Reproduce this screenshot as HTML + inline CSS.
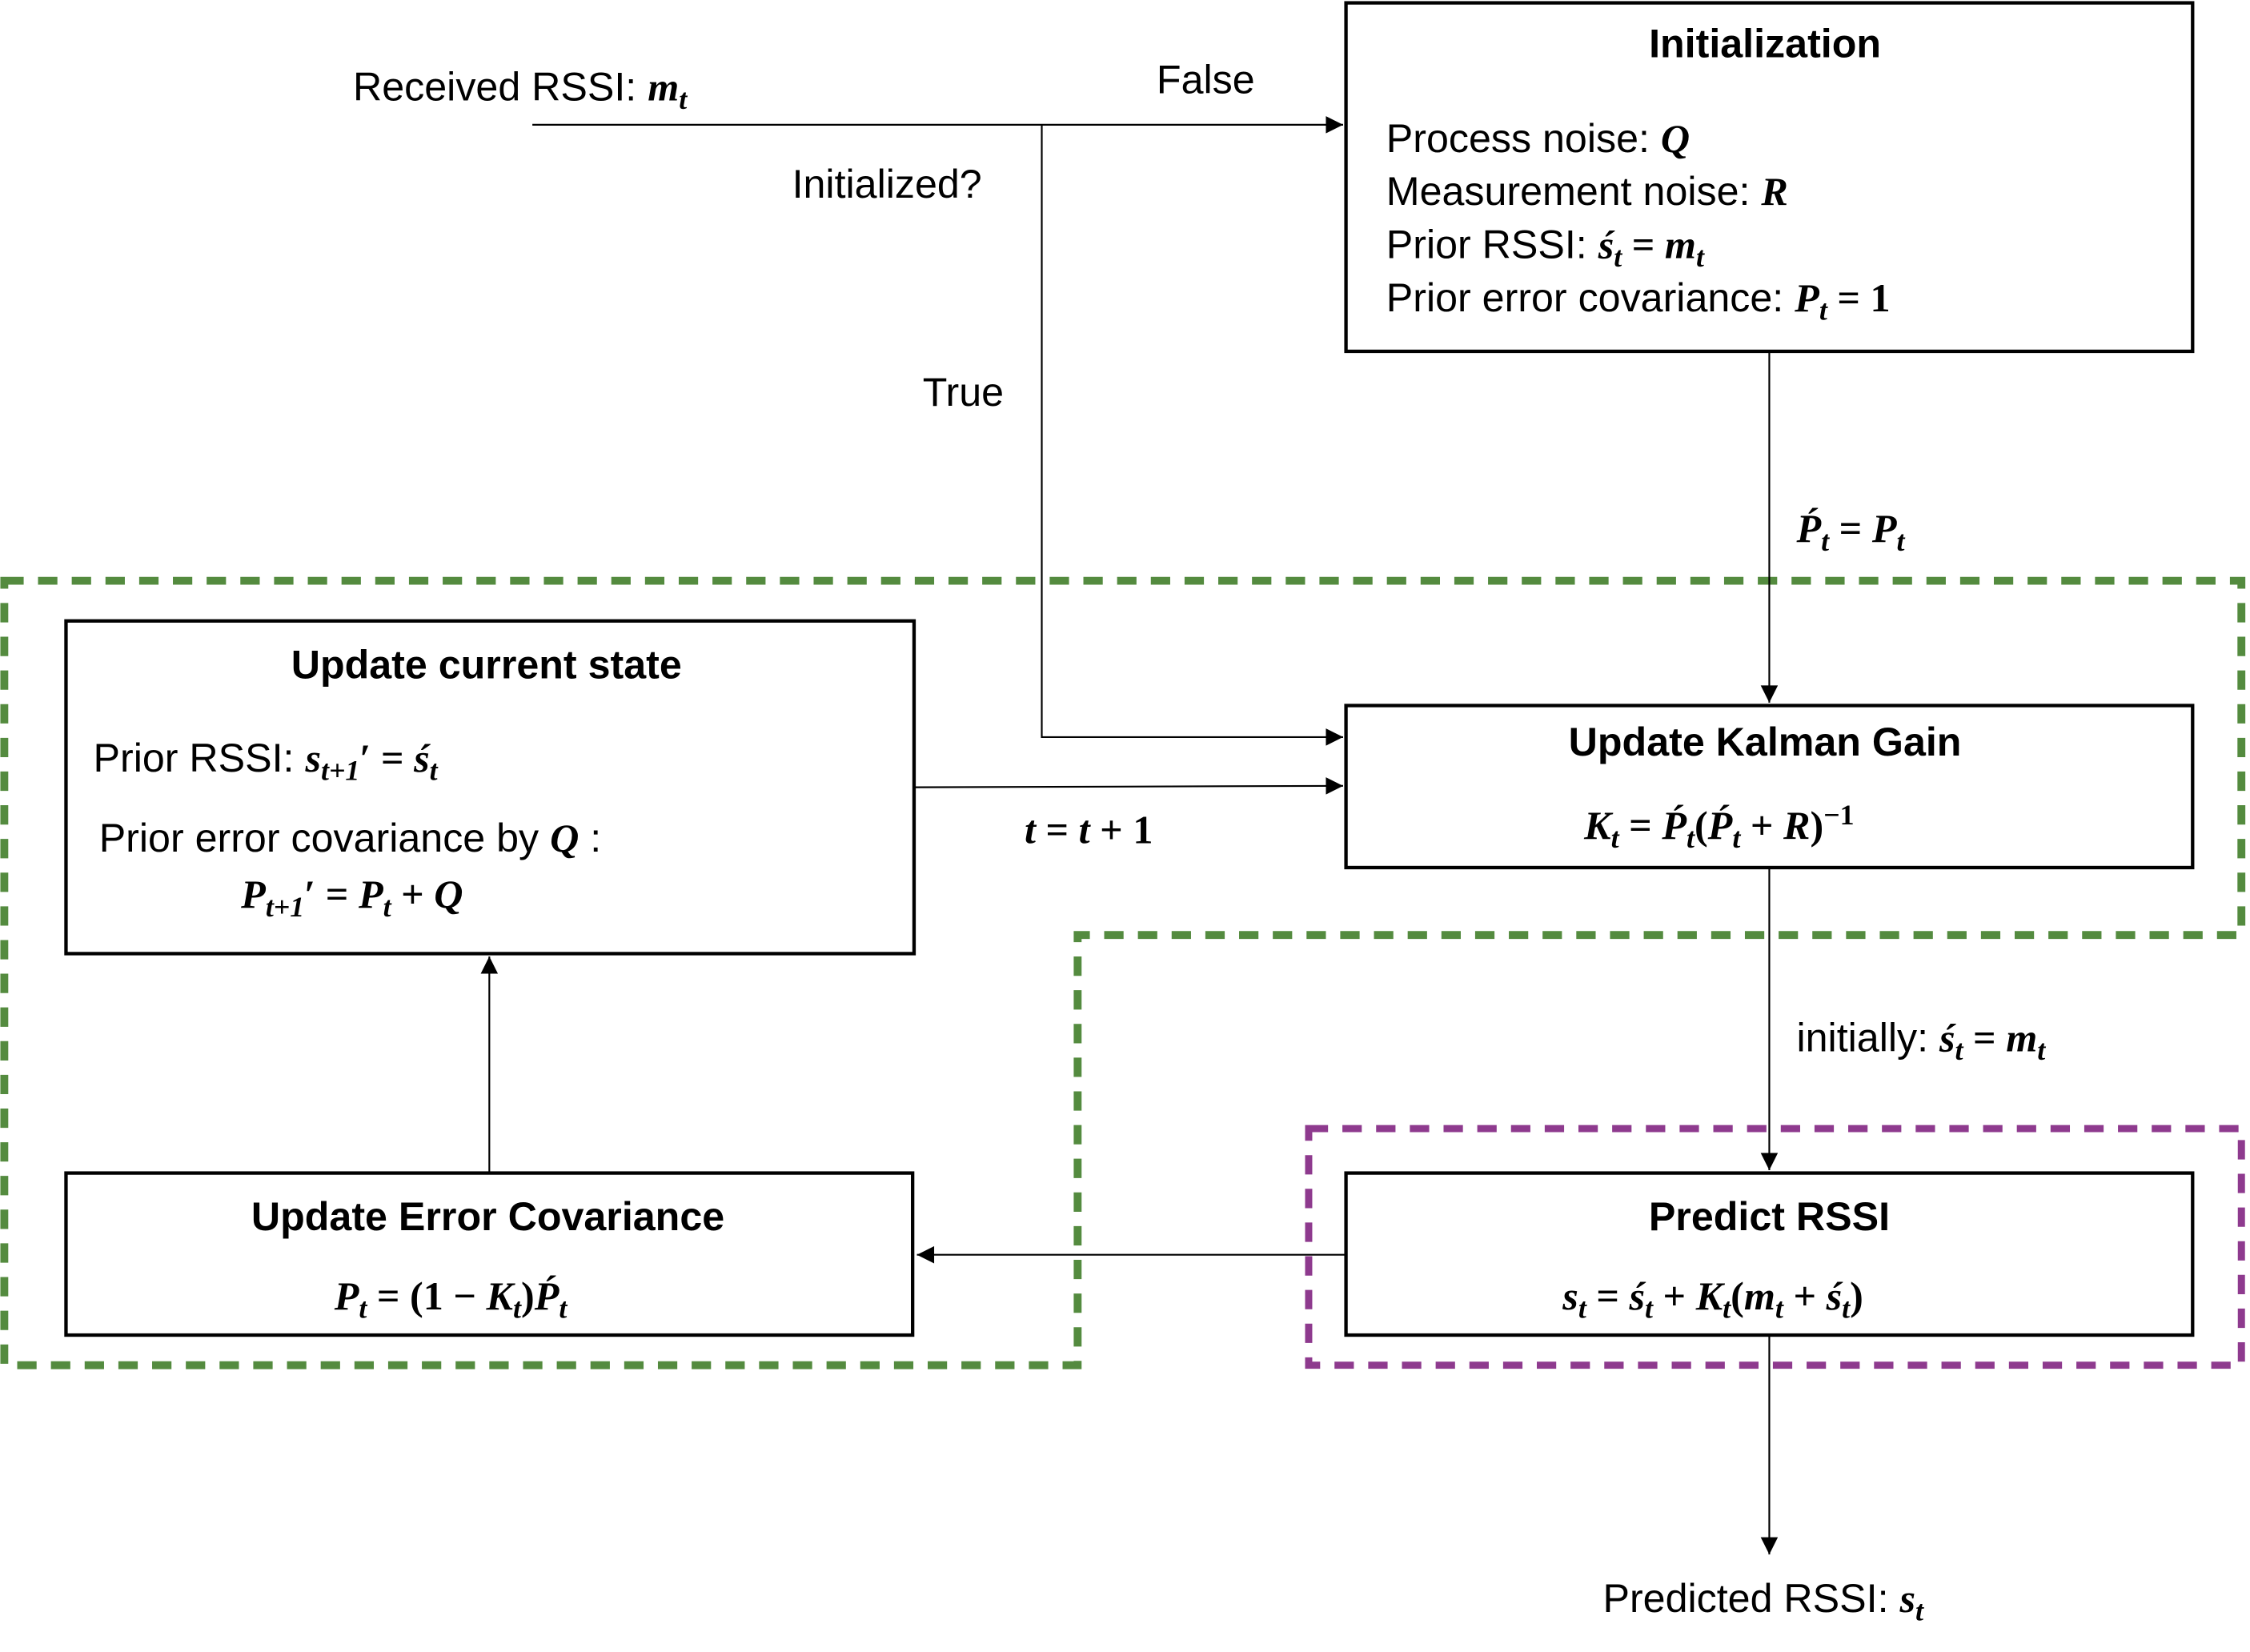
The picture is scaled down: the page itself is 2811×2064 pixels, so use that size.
<!DOCTYPE html>
<html><head><meta charset="utf-8"><style>
html,body{margin:0;padding:0;background:#fff;}
svg{display:block;}
.t{font-family:"Liberation Sans","Noto Sans CJK KR",sans-serif;font-size:28px;fill:#000;}
.b{font-weight:bold;}
.m{font-family:"Liberation Serif","DejaVu Serif",serif;font-style:italic;font-weight:bold;}
.n{font-family:"Liberation Serif","DejaVu Serif",serif;font-weight:bold;font-style:normal;}
</style></head><body>
<svg width="2811" height="2064" viewBox="0 0 1568 1152" preserveAspectRatio="none" xmlns="http://www.w3.org/2000/svg">
<defs><marker id="a" viewBox="0 0 10 10" refX="10" refY="5" markerWidth="14" markerHeight="12" markerUnits="userSpaceOnUse" orient="auto"><path d="M0,0L10,5L0,10z" fill="#000"/></marker></defs>
<rect width="1568" height="1152" fill="#fff"/>
<!-- dashed regions -->
<path d="M3,405H1562V652H751V952H3Z" fill="none" stroke="#548B3F" stroke-width="5.5" stroke-dasharray="13.5 10"/>
<rect x="912" y="787" width="650" height="165" fill="none" stroke="#8E3A8E" stroke-width="5" stroke-dasharray="13.5 10"/>
<!-- boxes -->
<g fill="#fff" stroke="#000" stroke-width="2.4">
<rect x="938" y="2" width="590" height="243"/>
<rect x="46" y="433" width="591" height="232"/>
<rect x="938" y="492" width="590" height="113"/>
<rect x="938" y="818" width="590" height="113"/>
<rect x="46" y="818" width="590" height="113"/>
</g>
<!-- connectors -->
<g stroke="#000" stroke-width="1.2" fill="none">
<path d="M371,87H936" marker-end="url(#a)"/>
<path d="M726,87V514H936" marker-end="url(#a)"/>
<path d="M1233,245V490" marker-end="url(#a)"/>
<path d="M637,549L936,548" marker-end="url(#a)"/>
<path d="M1233,605V816" marker-end="url(#a)"/>
<path d="M938,875H639" marker-end="url(#a)"/>
<path d="M341,818V667" marker-end="url(#a)"/>
<path d="M1233,931V1084" marker-end="url(#a)"/>
</g>
<!-- text -->
<text class="t" x="246" y="70">Received RSSI: <tspan class="m">m</tspan><tspan class="m" font-size="20" dy="6">t</tspan></text>
<text class="t" x="806" y="65">False</text>
<text class="t" x="552" y="138">Initialized?</text>
<text class="t" x="643" y="283">True</text>
<text class="t b" x="1230" y="40" text-anchor="middle">Initialization</text>
<text class="t" x="966" y="106">Process noise: <tspan class="m">Q</tspan></text>
<text class="t" x="966" y="143">Measurement noise: <tspan class="m">R</tspan></text>
<text class="t" x="966" y="180">Prior RSSI: <tspan class="m">ś</tspan><tspan class="m" font-size="20" dy="6">t</tspan><tspan class="n" dy="-6"> = </tspan><tspan class="m">m</tspan><tspan class="m" font-size="20" dy="6">t</tspan></text>
<text class="t" x="966" y="217">Prior error covariance: <tspan class="m">P</tspan><tspan class="m" font-size="20" dy="6">t</tspan><tspan class="n" dy="-6">  = 1</tspan></text>
<text class="t" x="1252" y="378"><tspan class="m">Ṕ</tspan><tspan class="m" font-size="20" dy="6">t</tspan><tspan class="n" dy="-6"> = </tspan><tspan class="m">P</tspan><tspan class="m" font-size="20" dy="6">t</tspan></text>
<text class="t b" x="339" y="473" text-anchor="middle">Update current state</text>
<text class="t" x="65" y="538">Prior RSSI: <tspan class="m">s</tspan><tspan class="m" font-size="20" dy="6">t+1</tspan><tspan class="n" dy="-6">′ = </tspan><tspan class="m">ś</tspan><tspan class="m" font-size="20" dy="6">t</tspan></text>
<text class="t" x="69" y="594">Prior error covariance by <tspan class="m" font-weight="normal">Q</tspan> :</text>
<text class="t" x="168" y="633"><tspan class="m">P</tspan><tspan class="m" font-size="20" dy="6">t+1</tspan><tspan class="n" dy="-6">′ = </tspan><tspan class="m">P</tspan><tspan class="m" font-size="20" dy="6">t</tspan><tspan class="n" dy="-6"> + </tspan><tspan class="m">Q</tspan></text>
<text class="t" x="714" y="588"><tspan class="m">t</tspan><tspan class="n"> = </tspan><tspan class="m">t</tspan><tspan class="n"> + 1</tspan></text>
<text class="t b" x="1230" y="527" text-anchor="middle">Update Kalman Gain</text>
<text class="t" x="1104" y="585"><tspan class="m">K</tspan><tspan class="m" font-size="20" dy="6">t</tspan><tspan class="n" dy="-6">  = </tspan><tspan class="m">Ṕ</tspan><tspan class="m" font-size="20" dy="6">t</tspan><tspan class="n" dy="-6">(</tspan><tspan class="m">Ṕ</tspan><tspan class="m" font-size="20" dy="6">t</tspan><tspan class="n" dy="-6"> + </tspan><tspan class="m">R</tspan><tspan class="n">)</tspan><tspan class="n" font-size="20" dy="-10">−1</tspan></text>
<text class="t" x="1252" y="733">initially: <tspan class="m">ś</tspan><tspan class="m" font-size="20" dy="6">t</tspan><tspan class="n" dy="-6"> = </tspan><tspan class="m">m</tspan><tspan class="m" font-size="20" dy="6">t</tspan></text>
<text class="t b" x="1233" y="858" text-anchor="middle">Predict RSSI</text>
<text class="t" x="1089" y="913"><tspan class="m">s</tspan><tspan class="m" font-size="20" dy="6">t</tspan><tspan class="n" dy="-6"> = </tspan><tspan class="m">ś</tspan><tspan class="m" font-size="20" dy="6">t</tspan><tspan class="n" dy="-6"> + </tspan><tspan class="m">K</tspan><tspan class="m" font-size="20" dy="6">t</tspan><tspan class="n" dy="-6">(</tspan><tspan class="m">m</tspan><tspan class="m" font-size="20" dy="6">t</tspan><tspan class="n" dy="-6"> + </tspan><tspan class="m">ś</tspan><tspan class="m" font-size="20" dy="6">t</tspan><tspan class="n" dy="-6">)</tspan></text>
<text class="t b" x="340" y="858" text-anchor="middle">Update Error Covariance</text>
<text class="t" x="233" y="913"><tspan class="m">P</tspan><tspan class="m" font-size="20" dy="6">t</tspan><tspan class="n" dy="-6"> = (1 − </tspan><tspan class="m">K</tspan><tspan class="m" font-size="20" dy="6">t</tspan><tspan class="n" dy="-6">)</tspan><tspan class="m">Ṕ</tspan><tspan class="m" font-size="20" dy="6">t</tspan></text>
<text class="t" x="1117" y="1124">Predicted RSSI: <tspan class="m">s</tspan><tspan class="m" font-size="20" dy="6">t</tspan></text>
</svg>
</body></html>
